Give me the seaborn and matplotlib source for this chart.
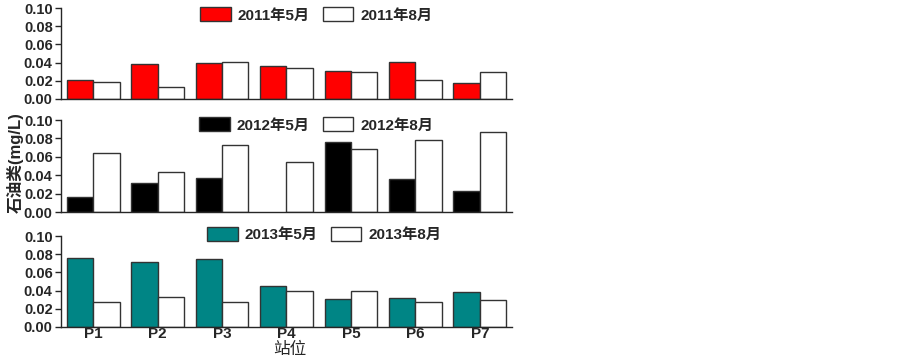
import numpy as np
import pandas as pd
import matplotlib
matplotlib.use('Agg')
import matplotlib.pyplot as plt
import seaborn as sns

sns.set_style('ticks')
plt.rcParams['font.family'] = ['Liberation Sans', 'Noto Sans CJK SC', 'DejaVu Sans']

stations = ['P1', 'P2', 'P3', 'P4', 'P5', 'P6', 'P7']

may_2011 = [0.021, 0.039, 0.040, 0.036, 0.031, 0.041, 0.018]
aug_2011 = [0.019, 0.013, 0.041, 0.034, 0.030, 0.021, 0.030]
may_2012 = [0.016, 0.031, 0.037, np.nan, 0.076, 0.036, 0.023]
aug_2012 = [0.064, 0.044, 0.073, 0.054, 0.068, 0.078, 0.087]
may_2013 = [0.076, 0.071, 0.075, 0.045, 0.031, 0.032, 0.038]
aug_2013 = [0.027, 0.033, 0.027, 0.040, 0.040, 0.027, 0.030]

panels = [
    ('2011年5月', may_2011, '2011年8月', aug_2011, '#ff0000'),
    ('2012年5月', may_2012, '2012年8月', aug_2012, '#000000'),
    ('2013年5月', may_2013, '2013年8月', aug_2013, '#008585'),
]

fig = plt.figure(figsize=(9.03, 3.57), dpi=100)
left, width = 61 / 903, 451 / 903
tops = [8, 120, 236]
bottoms = [99, 212, 327]
legend_xy = [(0.566, 0.923), (0.566, 0.946), (0.584, 1.016)]

for i, (lab_a, vals_a, lab_b, vals_b, col) in enumerate(panels):
    b = 1 - bottoms[i] / 357
    h = (bottoms[i] - tops[i]) / 357
    ax = fig.add_axes([left, b, width, h])
    df = pd.DataFrame({
        'station': stations * 2,
        'value': list(vals_a) + list(vals_b),
        'month': [lab_a] * 7 + [lab_b] * 7,
    })
    sns.barplot(data=df, x='station', y='value', hue='month', order=stations,
                hue_order=[lab_a, lab_b], palette=[col, '#ffffff'], saturation=1,
                width=0.82, gap=0, edgecolor='#333333', linewidth=1.0,
                errorbar=None, ax=ax)
    ax.set_xlim(-0.5, 6.5)
    ax.set_ylim(0, 0.10)
    ax.set_yticks([0.0, 0.02, 0.04, 0.06, 0.08, 0.10])
    ax.set_yticklabels(['0.00', '0.02', '0.04', '0.06', '0.08', '0.10'],
                       fontsize=10.5, fontweight='bold')
    ax.set_xlabel('')
    ax.set_ylabel('')
    for s in ['top', 'right']:
        ax.spines[s].set_visible(False)
    ax.spines['left'].set_linewidth(1.0)
    ax.spines['bottom'].set_linewidth(1.0)
    ax.tick_params(axis='y', direction='out', length=4, width=1, pad=2)
    ax.tick_params(axis='x', length=0, pad=0)
    if i < 2:
        ax.set_xticklabels([])
    else:
        ax.set_xticks(range(7))
        ax.set_xticklabels(stations, fontsize=11, fontweight='bold')
    ax.legend(ncol=2, loc='center', bbox_to_anchor=legend_xy[i],
              frameon=False, handlelength=2.0, handleheight=1.0,
              handletextpad=0.45, columnspacing=0.85, borderaxespad=0,
              prop={'size': 11, 'weight': 'bold'})

fig.text(15 / 903, 1 - 163 / 357, '石油类(mg/L)', rotation=90, ha='center',
         va='center', fontsize=12, fontweight='bold')
fig.text(290 / 903, 1 - 349 / 357, '站位', ha='center', va='center', fontsize=12)

fig.savefig('out.png', dpi=100)
